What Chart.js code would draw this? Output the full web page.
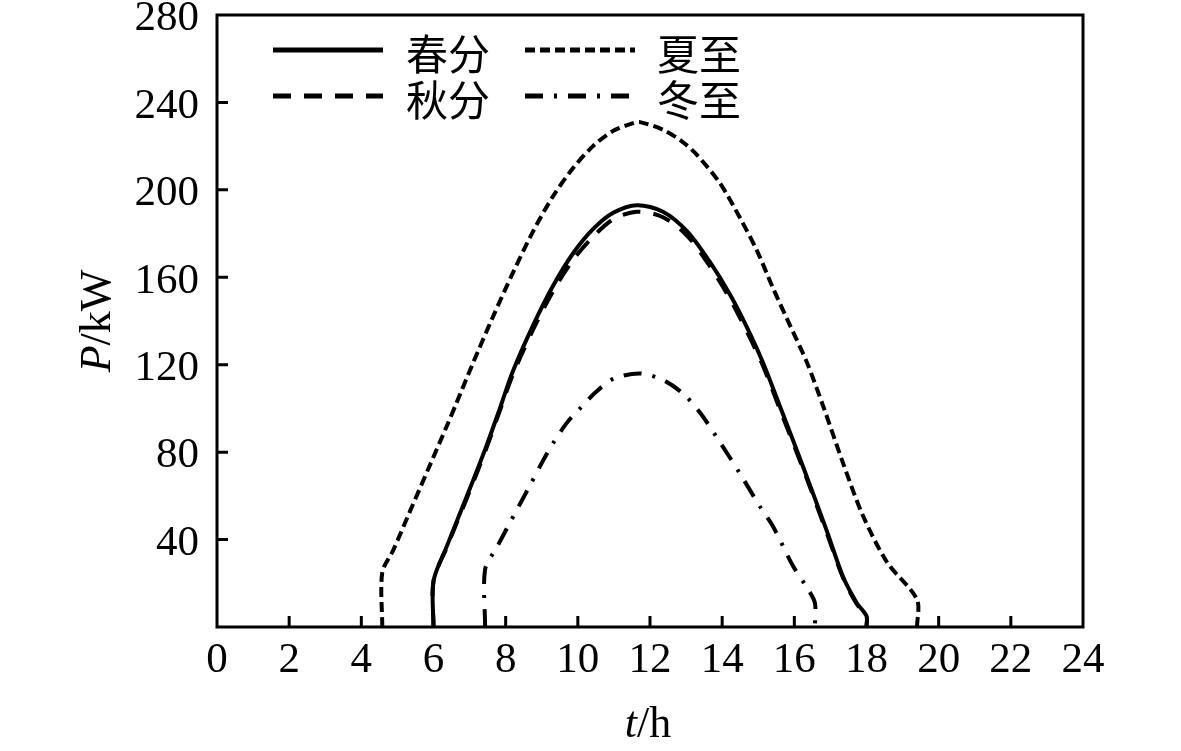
<!DOCTYPE html>
<html><head><meta charset="utf-8">
<script src="https://cdn.jsdelivr.net/npm/chart.js@4.4.1/dist/chart.umd.min.js"></script>
<style>html,body{margin:0;padding:0;background:#fff}#wrap{width:1181px;height:751px;position:relative}</style>
</head><body><div id="wrap"><canvas id="c"></canvas></div>
<script>
// ---- data ----
const seriesNames = ['春分', '夏至', '秋分', '冬至'];

const springT = [6.0, 6.0, 6.37, 7.0, 7.47, 7.84, 8.2, 8.76, 9.31, 9.87, 10.42, 10.98, 11.64, 12.36, 13.03, 13.66, 14.22, 14.69, 15.13, 15.6, 16.25, 16.9, 17.35, 17.73, 18.0, 18.0];
const springP = [0, 21, 37, 63, 83, 100, 117, 138, 156, 171, 182, 189.5, 193, 190, 181, 167, 152, 137, 121, 101, 73, 44, 23, 11, 5, 0];

const summerT = [4.58, 4.58, 4.88, 5.35, 5.9, 6.37, 6.65, 7.1, 7.65, 8.2, 8.76, 9.31, 9.87, 10.42, 10.98, 11.53, 11.72, 12.36, 12.9, 13.3, 13.94, 14.5, 14.97, 15.41, 15.88, 16.35, 16.8, 17.35, 17.9, 18.57, 19.4, 19.4];
const summerP = [0, 25, 35, 53, 74, 92, 103, 121, 142, 162, 181, 197, 210, 220, 227, 230.5, 231, 227.5, 222, 216, 203, 187, 172, 155, 138, 121, 101, 75, 51, 29.6, 12.6, 0];

const autumnT = [6.0, 6.0, 6.37, 7.0, 7.47, 7.84, 8.2, 8.76, 9.31, 9.87, 10.42, 10.98, 11.64, 12.36, 13.03, 13.66, 14.22, 14.69, 15.13, 15.6, 16.25, 16.9, 17.35, 17.73, 18.0, 18.0];
const autumnP = [0, 21, 36.5, 62, 82, 99, 115.5, 136, 153.5, 168, 178.5, 186.5, 190, 187.5, 179, 165, 150, 135, 119.5, 99.5, 72, 43, 22.5, 10.5, 5, 0];

const winterT = [7.43, 7.43, 7.76, 8.04, 8.4, 8.68, 9.0, 9.31, 9.7, 10.06, 10.5, 10.98, 11.72, 12.36, 12.9, 13.39, 14.0, 14.5, 15.05, 15.41, 15.96, 16.35, 16.57, 16.57];
const winterP = [0, 26.4, 36.6, 45.3, 56.4, 65, 75, 84, 93.5, 100, 107.5, 113.5, 116, 113, 107, 98, 83, 70, 55, 46, 28, 18, 11, 0];

const xTickStep = 2, xMin = 0, xMax = 24;
const yTickStep = 40, yMin = 0, yMax = 280;
const xTitleParts = ['t', '/h'];
const yTitleParts = ['P', '/kW'];

// ---- build ----
const pts = (T, P) => T.map((t, i) => ({ x: t, y: P[i] }));
const serif = "'Liberation Serif', 'Times New Roman', serif";
const cjk = "'Noto Sans CJK SC', 'Noto Sans', sans-serif";

const datasets = [
  { label: seriesNames[0], data: pts(springT, springP), borderDash: [] },
  { label: seriesNames[1], data: pts(summerT, summerP), borderDash: [10, 5] },
  { label: seriesNames[2], data: pts(autumnT, autumnP), borderDash: [18, 13] },
  { label: seriesNames[3], data: pts(winterT, winterP), borderDash: [18, 11, 3, 11] }
].map(d => Object.assign(d, {
  borderColor: '#000', backgroundColor: '#000', borderWidth: 4,
  pointRadius: 0, tension: 0.3, fill: false, borderCapStyle: 'butt'
}));

const framePlugin = {
  id: 'frame',
  afterDatasetsDraw(chart) {
    const { ctx, chartArea: a, scales: { x, y } } = chart;
    ctx.save();
    ctx.setLineDash([]);
    ctx.strokeStyle = '#000';
    ctx.lineWidth = 3;
    ctx.strokeRect(a.left, a.top, a.right - a.left, a.bottom - a.top);
    ctx.beginPath();
    x.ticks.forEach(t => {
      if (t.value > x.min && t.value < x.max) {
        const p = x.getPixelForValue(t.value);
        ctx.moveTo(p, a.bottom); ctx.lineTo(p, a.bottom - 11);
      }
    });
    y.ticks.forEach(t => {
      if (t.value > y.min && t.value < y.max) {
        const p = y.getPixelForValue(t.value);
        ctx.moveTo(a.left, p); ctx.lineTo(a.left + 11, p);
      }
    });
    ctx.stroke();
    ctx.restore();
  },
  afterDraw(chart) {
    const { ctx } = chart;
    ctx.save();
    ctx.fillStyle = '#000';
    const drawMixed = (parts, cx, cy, rot) => {
      ctx.save();
      ctx.translate(cx, cy);
      ctx.rotate(rot);
      ctx.textBaseline = 'alphabetic';
      ctx.textAlign = 'left';
      ctx.font = 'italic 44px ' + serif;
      const w1 = ctx.measureText(parts[0]).width;
      ctx.font = '44px ' + serif;
      const w2 = ctx.measureText(parts[1]).width;
      const sx = -(w1 + w2) / 2;
      ctx.font = 'italic 44px ' + serif;
      ctx.fillText(parts[0], sx, 0);
      ctx.font = '44px ' + serif;
      ctx.fillText(parts[1], sx + w1, 0);
      ctx.restore();
    };
    drawMixed(xTitleParts, 648, 737, 0);
    drawMixed(yTitleParts, 110, 321, -Math.PI / 2);

    // legend: 2 columns x 2 rows
    const colLineX = [273, 525], lineLen = 110, colTextX = [406, 657];
    const rowY = [50, 96];
    chart.data.datasets.forEach((ds, i) => {
      const col = i % 2, row = Math.floor(i / 2);
      ctx.save();
      ctx.strokeStyle = ds.borderColor;
      ctx.lineWidth = 5;
      ctx.setLineDash(ds.borderDash || []);
      ctx.beginPath();
      ctx.moveTo(colLineX[col], rowY[row]);
      ctx.lineTo(colLineX[col] + lineLen, rowY[row]);
      ctx.stroke();
      ctx.restore();
      ctx.font = '42px ' + cjk;
      ctx.textAlign = 'left';
      ctx.textBaseline = 'middle';
      ctx.fillText(ds.label, colTextX[col], rowY[row] + 4);
    });
    ctx.restore();
  }
};

new Chart(document.getElementById('c'), {
  type: 'line',
  data: { datasets },
  options: {
    responsive: true,
    maintainAspectRatio: false,
    animation: false,
    layout: { padding: { left: 0, right: 98, top: 15, bottom: 0 } },
    plugins: { legend: { display: false }, tooltip: { enabled: false } },
    scales: {
      x: {
        type: 'linear', min: xMin, max: xMax,
        ticks: { stepSize: xTickStep, color: '#000', padding: 8, maxRotation: 0, autoSkip: false,
                 font: { family: serif, size: 43 } },
        grid: { display: false, drawTicks: false },
        border: { display: false },
        afterFit(s) { s.height = 124; s.paddingLeft = 0; s.paddingRight = 0; }
      },
      y: {
        min: yMin, max: yMax,
        ticks: { stepSize: yTickStep, color: '#000', padding: 18, labelOffset: 4,
                 font: { family: serif, size: 43 },
                 callback: v => (v === 0 ? '' : v) },
        grid: { display: false, drawTicks: false },
        border: { display: false },
        afterFit(s) { s.width = 217; s.paddingTop = 0; s.paddingBottom = 0; }
      }
    }
  },
  plugins: [framePlugin]
});
</script>
</body></html>
